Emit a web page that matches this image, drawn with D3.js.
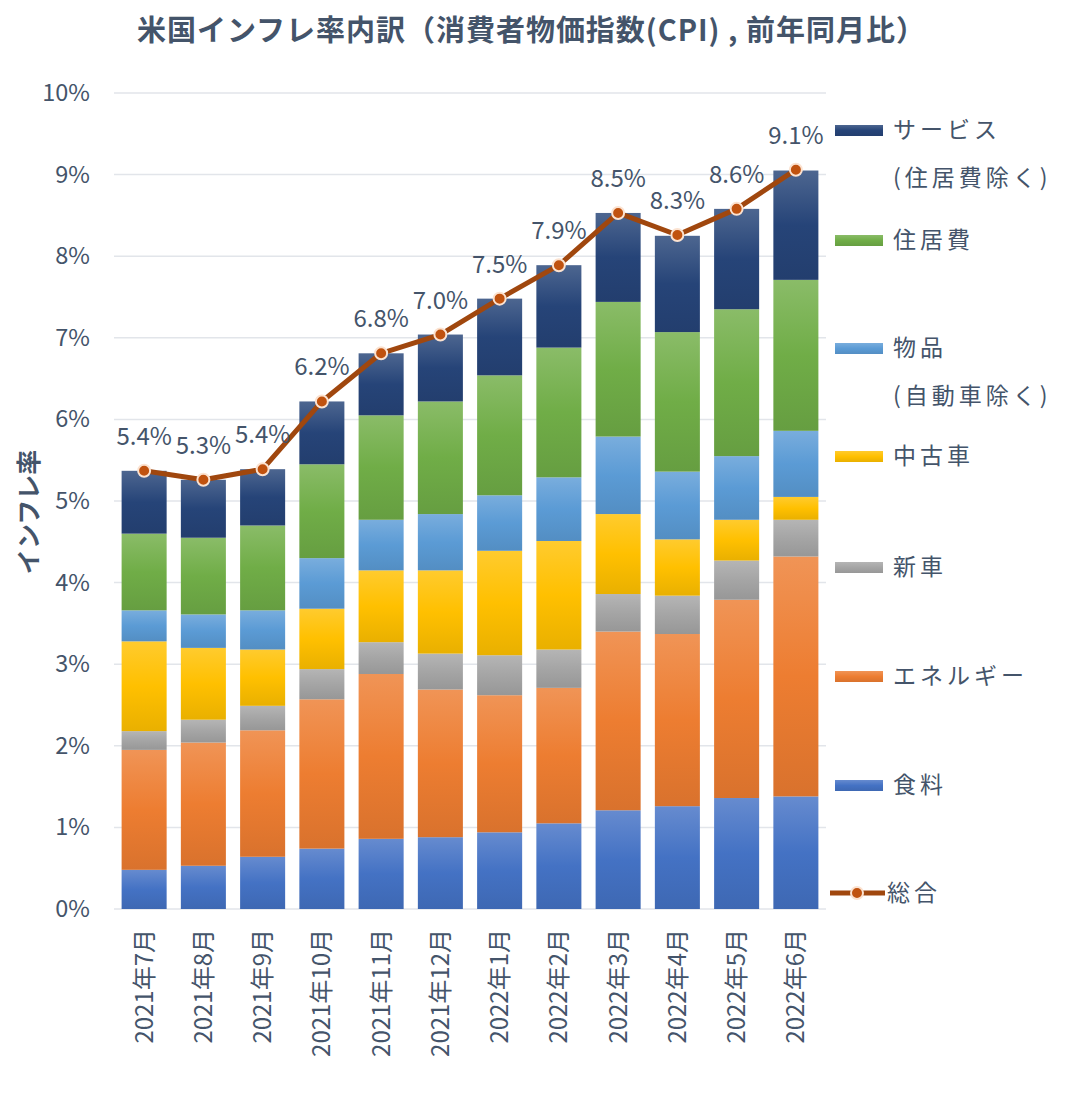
<!DOCTYPE html>
<html><head><meta charset="utf-8">
<script src="https://cdn.jsdelivr.net/npm/d3@7"></script>
<style>
html,body{margin:0;padding:0;background:#fff;}
text{font-family:"Noto Sans CJK JP","Noto Sans",sans-serif;}
</style></head>
<body><svg id="c" width="1080" height="1098"></svg>
<script>
const months = ["2021年7月","2021年8月","2021年9月","2021年10月","2021年11月","2021年12月","2022年1月","2022年2月","2022年3月","2022年4月","2022年5月","2022年6月"];
const food     = [0.48,0.53,0.64,0.74,0.86,0.88,0.94,1.05,1.21,1.26,1.36,1.38];
const energy   = [1.47,1.51,1.55,1.83,2.02,1.81,1.68,1.66,2.19,2.11,2.43,2.94];
const newCar   = [0.23,0.28,0.30,0.37,0.39,0.44,0.49,0.47,0.46,0.47,0.48,0.45];
const usedCar  = [1.10,0.88,0.69,0.74,0.88,1.02,1.28,1.33,0.98,0.69,0.50,0.28];
const goods    = [0.38,0.41,0.48,0.62,0.62,0.69,0.68,0.78,0.95,0.83,0.78,0.81];
const shelter  = [0.94,0.94,1.04,1.15,1.28,1.38,1.47,1.59,1.65,1.71,1.80,1.85];
const services = [0.77,0.71,0.69,0.77,0.76,0.82,0.94,1.01,1.09,1.18,1.23,1.34];
const total    = [5.37,5.26,5.39,6.22,6.81,7.04,7.48,7.89,8.53,8.26,8.58,9.06];
const yTicks   = [0,1,2,3,4,5,6,7,8,9,10];

const series = [
  {key:"food", name:"食料", values:food, color:"#4472C4"},
  {key:"energy", name:"エネルギー", values:energy, color:"#ED7D31"},
  {key:"newCar", name:"新車", values:newCar, color:"#A5A5A5"},
  {key:"usedCar", name:"中古車", values:usedCar, color:"#FFC000"},
  {key:"goods", name:["物品","(自動車除く)"], values:goods, color:"#5B9BD5"},
  {key:"shelter", name:"住居費", values:shelter, color:"#70AD47"},
  {key:"services", name:["サービス","(住居費除く)"], values:services, color:"#264478"}
];
const lineColor = "#A0470E";
const textColor = "#44546A";

const svg = d3.select("#c");
svg.append("rect").attr("width",1080).attr("height",1098).attr("fill","#fff");
const defs = svg.append("defs");
series.forEach(s=>{
  const c = d3.color(s.color);
  const g = defs.append("linearGradient").attr("id","g-"+s.key).attr("x1",0).attr("y1",0).attr("x2",0).attr("y2",1);
  g.append("stop").attr("offset","0%").attr("stop-color", d3.interpolateRgb(s.color,"#fff")(0.18));
  g.append("stop").attr("offset","50%").attr("stop-color", s.color);
  g.append("stop").attr("offset","100%").attr("stop-color", c.darker(0.25));
});

const x = d3.scaleBand().domain(months).range([114.5,825.5]).paddingInner(0.24).paddingOuter(0.12);
const y = d3.scaleLinear().domain([0,10]).range([909,93]);

// gridlines
svg.append("g").selectAll("line").data(yTicks).join("line")
  .attr("x1",114).attr("x2",826)
  .attr("y1",d=>y(d)).attr("y2",d=>y(d))
  .attr("stroke","#E2E5EA").attr("stroke-width",1.5);

// y axis labels
const yAxis = d3.axisLeft(y).tickValues(yTicks).tickFormat(d=>d+"%").tickSize(0).tickPadding(0);
const ya = svg.append("g").attr("transform","translate(90,0)").call(yAxis);
ya.select(".domain").remove();
ya.selectAll("text").attr("font-size",23.5).attr("fill",textColor).attr("font-family","'Open Sans','Noto Sans',sans-serif");

// stacked bars
const rows = months.map((m,i)=>{const o={month:m}; series.forEach(s=>o[s.key]=s.values[i]); return o;});
const stack = d3.stack().keys(series.map(s=>s.key))(rows);
const bw = x.bandwidth();
svg.append("g").selectAll("g").data(stack).join("g")
  .attr("fill",(d,i)=>"url(#g-"+series[i].key+")")
  .selectAll("rect").data(d=>d).join("rect")
  .attr("x",d=>x(d.data.month))
  .attr("width",bw)
  .attr("y",d=>y(d[1]))
  .attr("height",d=>y(d[0])-y(d[1]));

// x axis labels
const xAxis = d3.axisBottom(x).tickSize(0).tickPadding(0);
const xa = svg.append("g").attr("transform","translate(0,929)").call(xAxis);
xa.select(".domain").remove();
xa.selectAll("text").attr("font-size",24).attr("fill",textColor)
  .attr("transform","rotate(-90)").attr("text-anchor","end").attr("dy","0.35em").attr("x",0).attr("y",0);

// total line
const cx = d=>x(d)+bw/2;
const line = d3.line().x((d,i)=>cx(months[i])).y(d=>y(d));
svg.append("path").datum(total).attr("d",line).attr("fill","none").attr("stroke",lineColor).attr("stroke-width",5).attr("stroke-linejoin","round");
svg.append("g").selectAll("circle").data(total).join("circle")
  .attr("cx",(d,i)=>cx(months[i])).attr("cy",d=>y(d)).attr("r",6)
  .attr("fill","#C0520F").attr("stroke","#FBE2D0").attr("stroke-width",2);
svg.append("g").selectAll("text").data(total).join("text")
  .attr("x",(d,i)=>cx(months[i])).attr("y",d=>y(d)-26)
  .attr("text-anchor","middle").attr("font-size",24).attr("fill",textColor)
  .attr("font-family","'Open Sans','Noto Sans',sans-serif")
  .text(d=>d.toFixed(1)+"%");

// title
svg.append("text").attr("x",137).attr("y",41)
  .attr("font-size",29).attr("font-weight","bold").attr("fill",textColor)
  .attr("textLength",788).attr("lengthAdjust","spacing")
  .text("米国インフレ率内訳（消費者物価指数(CPI) , 前年同月比）");

// y title
svg.append("text").attr("transform","translate(38,512) rotate(-90)").attr("text-anchor","middle")
  .attr("font-size",25).attr("font-weight","bold").attr("fill",textColor).text("インフレ率");

// legend
const legendOrder = series.slice().reverse();
const legY = [130,240,348,456,567,676,785];
const lg = svg.append("g");
legendOrder.forEach((s,i)=>{
  const yy = legY[i];
  lg.append("rect").attr("x",835).attr("y",yy-5).attr("width",48).attr("height",11).attr("fill","url(#g-"+s.key+")");
  const names = Array.isArray(s.name)?s.name:[s.name];
  names.forEach((n,j)=>{
    lg.append("text").attr("x",893).attr("y",yy+j*48).attr("dy","0.35em").attr("font-size",23)
      .attr("letter-spacing",4).attr("fill",textColor).text(n);
  });
});
const ly = 893;
lg.append("line").attr("x1",830).attr("x2",885).attr("y1",ly).attr("y2",ly).attr("stroke",lineColor).attr("stroke-width",5);
lg.append("circle").attr("cx",857).attr("cy",ly).attr("r",6).attr("fill","#C0520F").attr("stroke","#FBE2D0").attr("stroke-width",2);
lg.append("text").attr("x",887).attr("y",ly).attr("dy","0.35em").attr("font-size",23).attr("letter-spacing",4).attr("fill",textColor).text("総合");
</script></body></html>
